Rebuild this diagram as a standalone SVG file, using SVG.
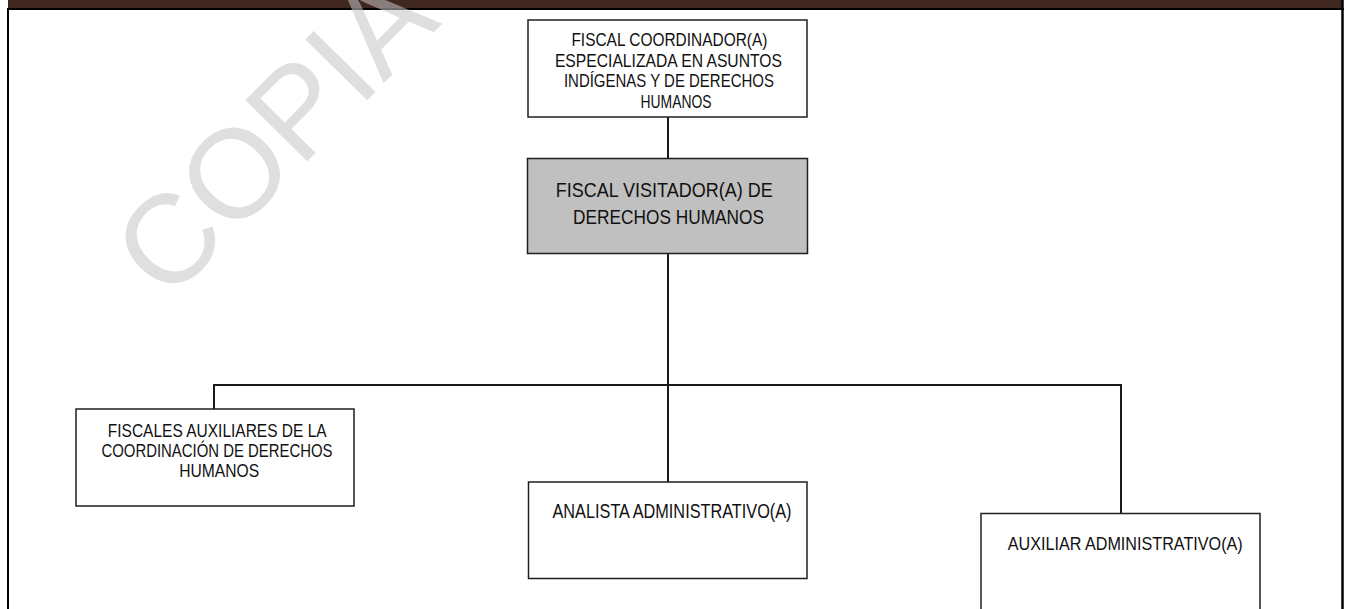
<svg xmlns="http://www.w3.org/2000/svg" width="1351" height="609" viewBox="0 0 1351 609">
  <style>
    .box { fill: #ffffff; stroke: #1f1f1f; stroke-width: 1.5; }
    .box-main { fill: #c0c0c0; stroke: #1f1f1f; stroke-width: 1.5; }
    .lbl { font-family: "Liberation Sans", Arial, sans-serif; fill: #111111; text-anchor: middle; }
    .conn { fill: none; stroke: #1a1a1a; stroke-width: 2; }
    .mark { font-family: "Liberation Sans", Arial, sans-serif; font-size: 126px; fill: #c4c4c4; fill-opacity: 0.55; }
  </style>

  <!-- page background -->
  <rect x="0" y="0" width="1351" height="609" fill="#ffffff"/>

  <!-- header band and page frame -->
  <g id="frame">
    <rect x="8" y="0" width="1334" height="8" fill="#3f261f"/>
    <line x1="7" y1="9" x2="1344" y2="9" stroke="#000" stroke-width="2"/>
    <line x1="8" y1="8" x2="8" y2="609" stroke="#000" stroke-width="2"/>
    <line x1="1342.5" y1="0" x2="1342.5" y2="609" stroke="#000" stroke-width="2.5"/>
  </g>

  <!-- connectors -->
  <g id="connectors">
    <path class="conn" d="M668 117 V158"/>
    <path class="conn" d="M668 253 V482"/>
    <path class="conn" d="M214 409 V385 H1121 V513"/>
  </g>

  <g id="fiscal-coordinador">
    <rect class="box" x="528" y="20" width="279" height="97"/>
    <text class="lbl" font-size="18.5">
      <tspan x="672" y="46" textLength="196" lengthAdjust="spacingAndGlyphs">FISCAL COORDINADOR(A)</tspan>
      <tspan x="671" y="66.5" textLength="227" lengthAdjust="spacingAndGlyphs">ESPECIALIZADA EN ASUNTOS</tspan>
      <tspan x="671.5" y="87" textLength="210" lengthAdjust="spacingAndGlyphs">INDÍGENAS Y DE DERECHOS</tspan>
      <tspan x="676" y="107.5" textLength="71" lengthAdjust="spacingAndGlyphs">HUMANOS</tspan>
    </text>
  </g>

  <g id="fiscal-visitador">
    <rect class="box-main" x="527.5" y="158.5" width="280" height="95"/>
    <text class="lbl" font-size="20">
      <tspan x="667" y="196.7" textLength="217" lengthAdjust="spacingAndGlyphs">FISCAL VISITADOR(A) DE</tspan>
      <tspan x="668.5" y="224" textLength="191" lengthAdjust="spacingAndGlyphs">DERECHOS HUMANOS</tspan>
    </text>
  </g>

  <g id="fiscales-auxiliares">
    <rect class="box" x="76" y="409" width="278" height="97"/>
    <text class="lbl" font-size="18">
      <tspan x="219.3" y="436.5" textLength="218" lengthAdjust="spacingAndGlyphs">FISCALES AUXILIARES DE LA</tspan>
      <tspan x="219.5" y="457" textLength="231" lengthAdjust="spacingAndGlyphs">COORDINACIÓN DE DERECHOS</tspan>
      <tspan x="219.2" y="477" textLength="80" lengthAdjust="spacingAndGlyphs">HUMANOS</tspan>
    </text>
  </g>

  <g id="analista-administrativo">
    <rect class="box" x="528.5" y="482" width="278.5" height="96.5"/>
    <text class="lbl" font-size="19.5" x="672" y="518.3" textLength="239" lengthAdjust="spacingAndGlyphs">ANALISTA ADMINISTRATIVO(A)</text>
  </g>

  <g id="auxiliar-administrativo">
    <path class="box" d="M981 615 V513.5 H1260 V615"/>
    <text class="lbl" font-size="19" x="1125.2" y="550" textLength="235" lengthAdjust="spacingAndGlyphs">AUXILIAR ADMINISTRATIVO(A)</text>
  </g>

  <!-- watermark -->
  <g id="watermark">
    <text class="mark" transform="translate(167.5 303.3) rotate(-45.5)" x="0" y="0">COPIA</text>
  </g>
</svg>
